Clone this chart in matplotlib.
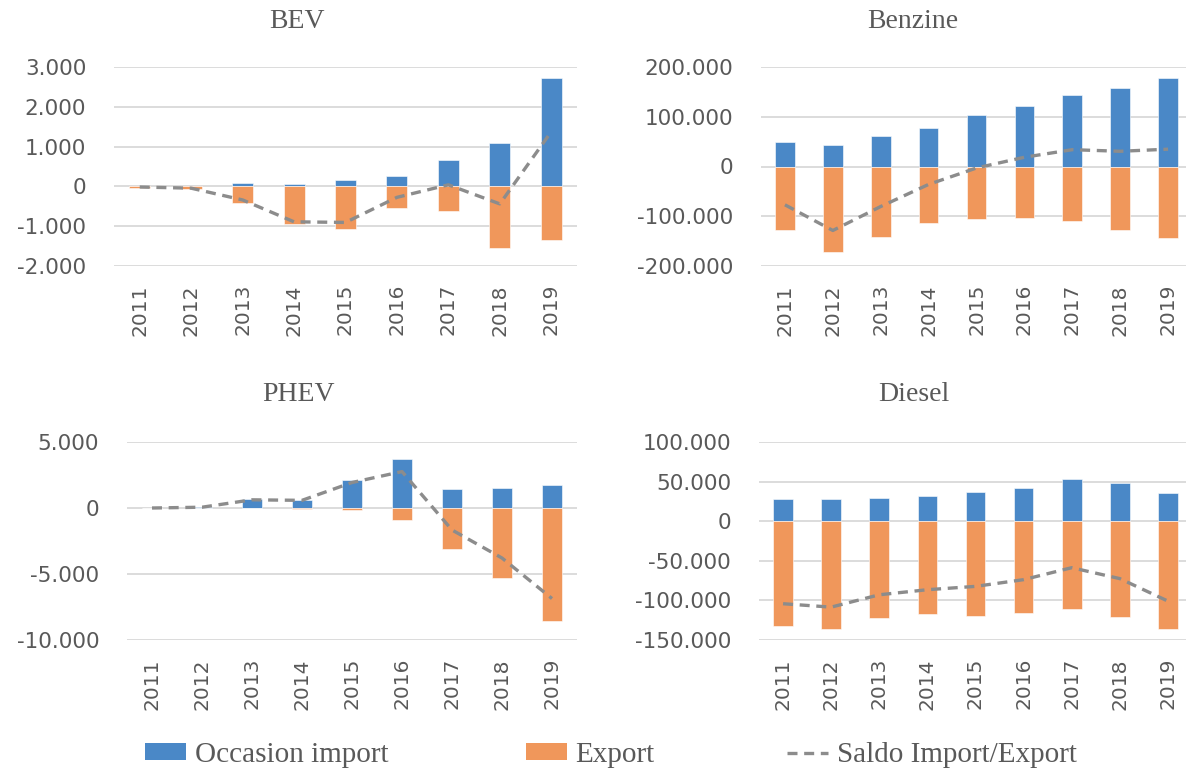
import numpy as np
import matplotlib
matplotlib.use("Agg")
import matplotlib.pyplot as plt
from matplotlib.ticker import FuncFormatter, MultipleLocator
from matplotlib.patches import Patch
from matplotlib.lines import Line2D

# Jaren en aantallen per brandstofsoort
jaren = ["2011", "2012", "2013", "2014", "2015", "2016", "2017", "2018", "2019"]

bev_import = [15, 15, 80, 50, 170, 270, 670, 1100, 2720]
bev_export = [-30, -60, -420, -940, -1075, -545, -630, -1540, -1345]

benzine_import = [50000, 42400, 60600, 78000, 103000, 122600, 142800, 157600, 177800]
benzine_export = [-127000, -171000, -141000, -114000, -106000, -104000, -109000, -127000, -143000]

phev_import = [0, 60, 650, 620, 2100, 3690, 1415, 1540, 1720]
phev_export = [0, 0, -30, -40, -170, -930, -3080, -5330, -8580]

diesel_import = [27800, 27800, 29500, 31200, 37100, 42200, 52700, 48100, 35400]
diesel_export = [-132000, -136300, -122400, -117700, -119400, -116000, -111400, -120600, -136300]

BLAUW = "#4a88c7"
ORANJE = "#f0975b"
GRIJS = "#8c8c8c"
TEKST = "#595959"
STREEP = (0, (3, 2))


def duizend(v, pos):
    return f"{v:,.0f}".replace(",", ".")


def paneel(rect, imp, exp, ylim, stap):
    ax = fig.add_axes(rect)
    x = np.arange(len(jaren))
    imp = np.array(imp, dtype=float)
    exp = np.array(exp, dtype=float)
    saldo = imp + exp
    ax.bar(x, imp, width=0.41, color=BLAUW, edgecolor="white", linewidth=0.4, zorder=2)
    ax.bar(x, exp, width=0.41, color=ORANJE, edgecolor="white", linewidth=0.4, zorder=2)
    ax.plot(x, saldo, color=GRIJS, linestyle=STREEP, linewidth=2.4, zorder=3)
    ax.set_xlim(-0.5, len(jaren) - 0.5)
    ax.set_ylim(*ylim)
    ax.yaxis.set_major_locator(MultipleLocator(stap))
    ax.yaxis.set_major_formatter(FuncFormatter(duizend))
    ax.set_xticks(x)
    ax.set_xticklabels(jaren, rotation=90, fontsize=14.5, color=TEKST)
    ax.tick_params(axis="x", length=0, pad=13)
    ax.tick_params(axis="y", length=0, pad=20, labelsize=15.5, labelcolor=TEKST)
    ax.grid(axis="y", color="#d9d9d9", linewidth=1.3, zorder=0)
    ax.set_axisbelow(True)
    for s in ax.spines.values():
        s.set_visible(False)
    return ax


W, H = 1186, 771
fig = plt.figure(figsize=(W / 100, H / 100), dpi=100)


def r(l, t, rr, b):
    return [l / W, 1 - b / H, (rr - l) / W, (b - t) / H]


def px(x, y):
    return x / W, 1 - y / H


paneel(r(114, 67, 577, 266), bev_import, bev_export, (-2000, 3000), 1000)
paneel(r(761, 67, 1192, 266), benzine_import, benzine_export, (-200000, 200000), 100000)
paneel(r(127, 442, 577, 640), phev_import, phev_export, (-10000, 5000), 5000)
paneel(r(759, 442, 1192, 640), diesel_import, diesel_export, (-150000, 100000), 50000)

# titels boven de grafiekvlakken
for titel, (tx, ty) in [("BEV", (297, 21)), ("Benzine", (913, 21)),
                        ("PHEV", (298, 395)), ("Diesel", (914, 395))]:
    fig.text(*px(tx, ty), titel, ha="center", va="center", fontsize=20,
             color=TEKST, family="Liberation Serif")

# legenda: drie losse items op vaste posities
items = [
    (Patch(facecolor=BLAUW, label="Occasion import"), 145),
    (Patch(facecolor=ORANJE, label="Export"), 526),
    (Line2D([0], [0], color=GRIJS, linestyle=STREEP, linewidth=2.4,
            label="Saldo Import/Export"), 787),
]
for h, lx in items:
    fig.legend(handles=[h], loc="center left", bbox_to_anchor=px(lx, 755),
               frameon=False, prop={"family": "Liberation Serif", "size": 21},
               labelcolor=TEKST, handlelength=1.4, handleheight=0.5,
               handletextpad=0.3, borderpad=0, borderaxespad=0)

fig.savefig("out.png", dpi=100)
